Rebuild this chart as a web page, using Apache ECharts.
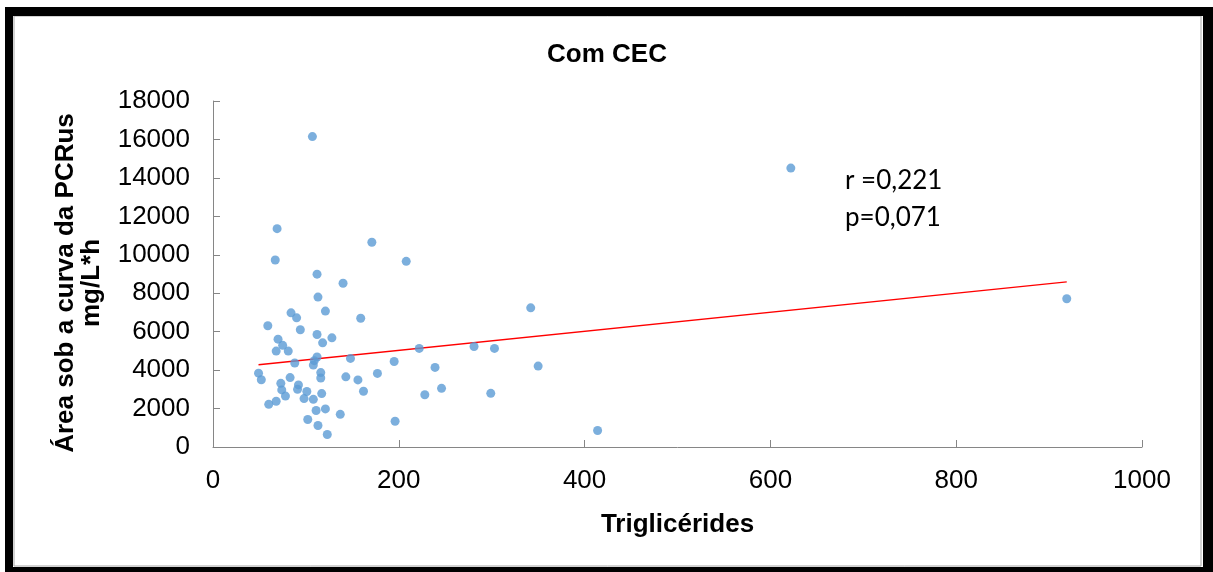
<!DOCTYPE html>
<html>
<head>
<meta charset="utf-8">
<script src="https://cdn.jsdelivr.net/npm/echarts@6/dist/echarts.min.js"></script>
<style>
html,body{margin:0;padding:0;background:#fff;}
#chart{width:1213px;height:572px;}
</style>
</head>
<body>
<div id="chart"></div>
<script>
// Triglicérides (x) values
const trigX = [107, 622, 69, 171, 67, 208, 112, 140, 113, 342, 919, 84, 90, 121, 159, 59, 94, 112, 128, 70,
  75, 118, 81, 68, 222, 281, 303, 112, 109, 148, 195, 88, 108, 239, 350, 49, 52, 116, 116, 143,
  177, 156, 83, 73, 92, 74, 91, 78, 98, 108, 162, 101, 117, 60, 68, 228, 299, 246, 111, 121,
  137, 102, 196, 113, 123, 414];
// Área sob a curva da PCRus (y) values
const areaY = [16150, 14510, 11360, 10650, 9730, 9660, 8990, 8520, 7800, 7240, 7710, 6980, 6720, 7070, 6700, 6310, 6100, 5850, 5680, 5610,
  5290, 5420, 4990, 4990, 5130, 5230, 5130, 4680, 4490, 4610, 4450, 4370, 4260, 4140, 4210, 3840, 3500, 3870, 3590, 3650,
  3830, 3490, 3610, 3310, 3230, 2970, 3000, 2650, 2520, 2480, 2900, 2890, 2780, 2220, 2380, 2720, 2790, 3050, 1900, 1980,
  1700, 1430, 1340, 1120, 650, 860];
// Linear trend line endpoints
const trendX = [49, 919];
const trendY = [4280, 8590];
// Axis ticks
const xTicks = [0, 200, 400, 600, 800, 1000];
const yTicks = [0, 2000, 4000, 6000, 8000, 10000, 12000, 14000, 16000, 18000];
const titleText = 'Com CEC';
const xName = 'Triglicérides';
const yName = 'Área sob a curva da PCRus\nmg/L*h';
const statLines = ['r =0,221', 'p=0,071'];

const points = trigX.map((x, i) => [x, areaY[i]]);
const trend = trendX.map((x, i) => [x, trendY[i]]);

const chart = echarts.init(document.getElementById('chart'), null, {renderer: 'canvas'});
const axisGray = '#868686';
const font = '"Liberation Sans", Arial, sans-serif';

chart.setOption({
  animation: false,
  backgroundColor: '#ffffff',
  title: {
    text: titleText,
    left: 602, top: 37, textAlign: 'center',
    textStyle: {fontFamily: font, fontWeight: 'bold', fontSize: 26, color: '#000'}
  },
  grid: {left: 213, right: 71, top: 101, bottom: 125, containLabel: false},
  xAxis: {
    type: 'value', min: xTicks[0], max: xTicks[xTicks.length - 1], interval: 200,
    name: xName, nameLocation: 'middle', nameGap: 65,
    nameTextStyle: {fontFamily: font, fontWeight: 'bold', fontSize: 26, color: '#000'},
    axisLine: {show: true, lineStyle: {color: axisGray, width: 1}},
    axisTick: {show: true, inside: true, length: 7, lineStyle: {color: axisGray}},
    axisLabel: {fontFamily: font, fontSize: 26, color: '#000', margin: 21, formatter: v => String(v)},
    splitLine: {show: false}
  },
  yAxis: {
    type: 'value', min: yTicks[0], max: yTicks[yTicks.length - 1], interval: 2000,
    name: yName, nameLocation: 'middle', nameGap: 108, nameRotate: 90,
    nameTextStyle: {fontFamily: font, fontWeight: 'bold', fontSize: 26, color: '#000', lineHeight: 26, align: 'center', padding: [0, 18, 0, 0]},
    axisLine: {show: true, lineStyle: {color: axisGray, width: 1}},
    axisTick: {show: true, inside: true, length: 7, lineStyle: {color: axisGray}},
    axisLabel: {fontFamily: font, fontSize: 26, color: '#000', margin: 23, formatter: v => String(v)},
    splitLine: {show: false}
  },
  series: [
    {
      type: 'scatter', data: points, symbol: 'circle', symbolSize: 9,
      itemStyle: {color: '#5B9BD5'}, z: 3
    },
    {
      type: 'line', data: trend, symbol: 'none',
      lineStyle: {color: '#FF0000', width: 1.3}, z: 2
    }
  ],
  graphic: [
    {type: 'rect', shape: {x: 14, y: 16, width: 1187, height: 550}, style: {fill: 'none', stroke: '#A6A6A6', lineWidth: 1}, z: 100},
    {type: 'rect', shape: {x: 5, y: 7, width: 1208, height: 9}, style: {fill: '#000'}, z: 101},
    {type: 'rect', shape: {x: 5, y: 7, width: 8, height: 565}, style: {fill: '#000'}, z: 101},
    {type: 'rect', shape: {x: 1203, y: 7, width: 10, height: 565}, style: {fill: '#000'}, z: 101},
    {type: 'rect', shape: {x: 5, y: 567, width: 1208, height: 5}, style: {fill: '#000'}, z: 101},
    {type: 'text', left: 845, top: 162, style: {text: statLines.join('\n'), font: '26px Lato, "Open Sans", sans-serif', lineHeight: 37, fill: '#000'}, z: 50}
  ]
});
</script>
</body>
</html>
